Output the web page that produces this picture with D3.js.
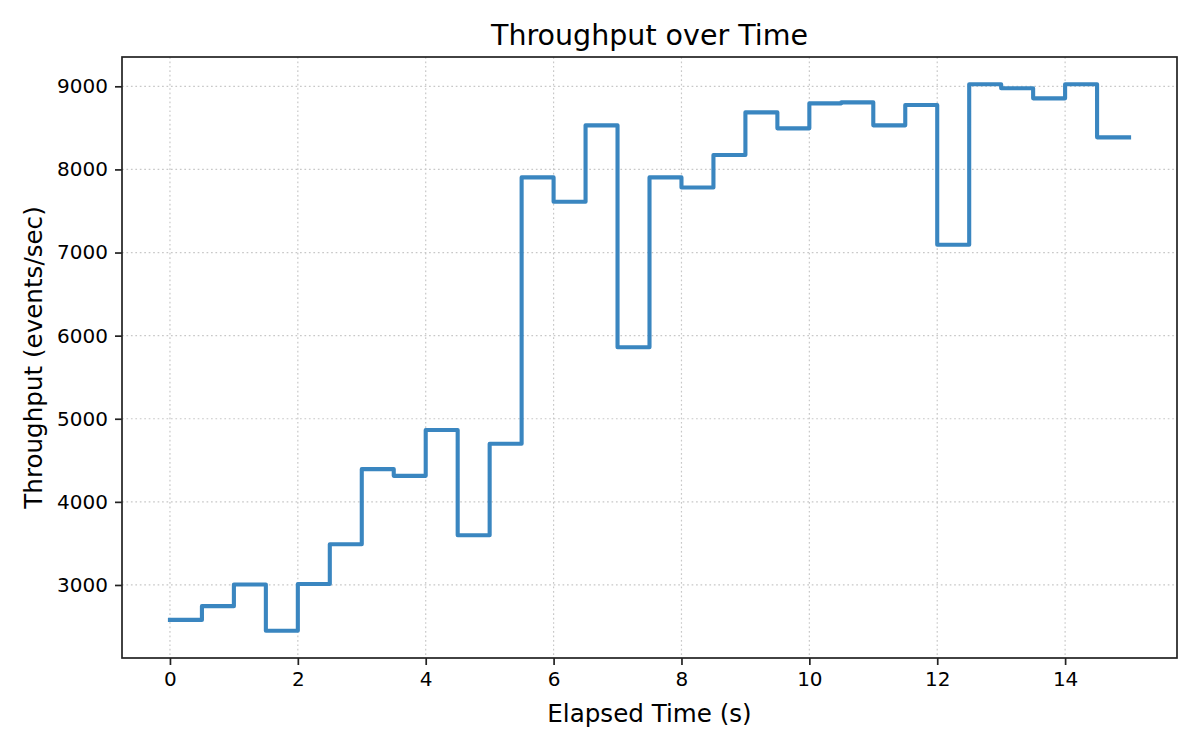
<!DOCTYPE html>
<html>
<head>
<meta charset="utf-8">
<script src="https://cdn.jsdelivr.net/npm/d3@7"></script>
<style>
  body { margin: 0; background: #fff; }
  svg text { font-family: "DejaVu Sans", sans-serif; fill: #000; }
  .grid line { stroke: #c8c8c8; stroke-width: 1.2; stroke-dasharray: 1.7,2.75; }
</style>
</head>
<body>
<svg width="1200" height="750"></svg>
<script>
// data: one value per half-second bin
var times = [0, 0.5, 1, 1.5, 2, 2.5, 3, 3.5, 4, 4.5, 5, 5.5, 6, 6.5, 7,
             7.5, 8, 8.5, 9, 9.5, 10, 10.5, 11, 11.5, 12, 12.5, 13, 13.5, 14, 14.5];
var throughput = [2580, 2745, 3005, 2450, 3012, 3490, 4394, 4313, 4864, 3599,
                  4699, 7904, 7611, 8530, 5860, 7904, 7783, 8173, 8687, 8494,
                  8795, 8807, 8530, 8776, 7093, 9024, 8976, 8855, 9024, 8386];
var endTime = 15;
var xTicks = [0, 2, 4, 6, 8, 10, 12, 14];
var yTicks = [3000, 4000, 5000, 6000, 7000, 8000, 9000];

//begin: layout conf.
var margin = {top: 57, right: 23, bottom: 92, left: 122},
    svgWidth = 1200, svgHeight = 750,
    width = svgWidth - margin.left - margin.right,
    height = svgHeight - margin.top - margin.bottom;
//end: layout conf.

var points = times.map(function(t, i){ return {t: t, v: throughput[i]}; });
points.push({t: endTime, v: throughput[throughput.length - 1]});

// matplotlib style 5% margins
var xPad = (endTime - times[0]) * 0.05;
var yExt = d3.extent(throughput), yPad = (yExt[1] - yExt[0]) * 0.05;

var x = d3.scaleLinear().domain([times[0] - xPad, endTime + xPad]).range([0, width]);
var y = d3.scaleLinear().domain([yExt[0] - yPad, yExt[1] + yPad]).range([height, 0]);

var svg = d3.select("svg");
var g = svg.append("g").attr("transform", "translate(" + [margin.left, margin.top] + ")");

// grid
var grid = g.append("g").classed("grid", true);
grid.selectAll(".gx").data(xTicks).enter().append("line")
    .attr("x1", function(d){ return x(d); }).attr("x2", function(d){ return x(d); })
    .attr("y1", 0).attr("y2", height);
grid.selectAll(".gy").data(yTicks).enter().append("line")
    .attr("y1", function(d){ return y(d); }).attr("y2", function(d){ return y(d); })
    .attr("x1", 0).attr("x2", width);

// step line
var line = d3.line()
    .x(function(d){ return x(d.t); })
    .y(function(d){ return y(d.v); })
    .curve(d3.curveStepAfter);

g.append("path")
    .datum(points)
    .attr("d", line)
    .attr("fill", "none")
    .attr("stroke", "#3a86c0")
    .attr("stroke-width", 4.1)
    .attr("stroke-linejoin", "round")
    .attr("stroke-linecap", "square");

// axes
var xAxis = d3.axisBottom(x).tickValues(xTicks).tickFormat(d3.format("d"))
    .tickSizeInner(7).tickSizeOuter(0).tickPadding(7);
var yAxis = d3.axisLeft(y).tickValues(yTicks).tickFormat(d3.format("d"))
    .tickSizeInner(7).tickSizeOuter(0).tickPadding(7);

var gx = g.append("g").attr("transform", "translate(0," + height + ")").call(xAxis);
var gy = g.append("g").call(yAxis);
[gx, gy].forEach(function(a){
  a.select(".domain").remove();
  a.selectAll(".tick line").attr("stroke", "#222").attr("stroke-width", 1.7);
  a.selectAll(".tick text").style("font-size", "20px").attr("fill", "#000");
});

// frame
g.append("rect")
    .attr("width", width).attr("height", height)
    .attr("fill", "none").attr("stroke", "#222").attr("stroke-width", 1.7);

// labels
svg.append("text")
    .attr("x", margin.left + width / 2).attr("y", 45)
    .attr("text-anchor", "middle").style("font-size", "28.5px")
    .text("Throughput over Time");
svg.append("text")
    .attr("x", margin.left + width / 2).attr("y", 722)
    .attr("text-anchor", "middle").style("font-size", "24.6px")
    .text("Elapsed Time (s)");
svg.append("text")
    .attr("transform", "translate(" + [42, margin.top + height / 2] + ") rotate(-90)")
    .attr("text-anchor", "middle").style("font-size", "24.6px")
    .text("Throughput (events/sec)");
</script>
</body>
</html>
